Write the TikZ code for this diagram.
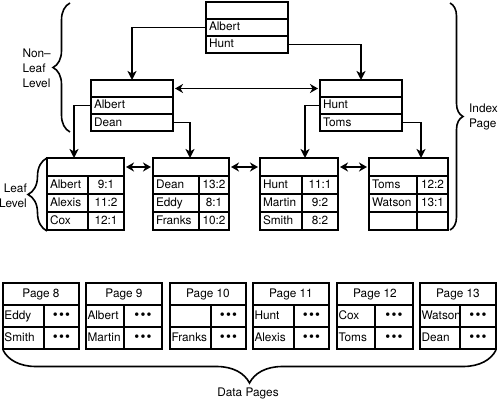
\documentclass[tikz,border=0pt]{standalone}
\usepackage{fontspec}
\setmainfont{TeX Gyre Heros}
\usepackage{tikz}
\usetikzlibrary{arrows.meta, positioning, calc, decorations.pathreplacing}

\newcommand{\threedots}{{\fontsize{14}{14}\selectfont •\kern1.2pt•\kern1.2pt•}}

\tikzset{
	cell/.style={draw, line width=1.2pt, anchor=north west, inner sep=0pt, outer sep=0pt,
		text height=9pt, text depth=2pt, align=center},
	key/.style={cell, align=left, inner xsep=3pt},
	frame/.style={line width=1.8pt},
	arr/.style={line width=1.7pt, -{Stealth[length=9pt, width=9pt, inset=2.5pt]}},
	dbl/.style={line width=1.7pt, {Stealth[length=8pt, width=9pt, inset=2.5pt]}-{Stealth[length=8pt, width=9pt, inset=2.5pt]},
		shorten <=2pt, shorten >=2pt},
	brc/.style={line width=1.6pt, decorate},
	lbl/.style={inner sep=0pt}
}

\begin{document}
\begin{tikzpicture}[x=1pt, y=-1pt, font=\fontsize{11.8}{15}\selectfont]
	\useasboundingbox (0,0) rectangle (500,401);

	% index page, non-leaf level
	\foreach \n/\x/\y/\a/\b in {root/206/2/Albert/Hunt, lnl/91/80/Albert/Dean, rnl/320/80/Hunt/Toms}{
		\node[cell, minimum width=82pt, minimum height=17pt] (\n-0) at (\x,\y) {};
		\node[key, text width=76pt, minimum height=17pt] (\n-1) at (\n-0.south west) {\a};
		\node[key, text width=76pt, minimum height=17pt] (\n-2) at (\n-1.south west) {\b};
		\draw[frame] (\n-0.north west) rectangle (\n-2.south east);
	}

	% leaf level
	\foreach \n/\x/\w/\s/\ka/\va/\kb/\vb/\kc/\vc in {
			leafA/47/77/41/Albert/9:1/Alexis/11:2/Cox/12:1,
			leafB/153/76/46/Dean/13:2/Eddy/8:1/Franks/10:2,
			leafC/260/78/42/Hunt/11:1/Martin/9:2/Smith/8:2,
			leafD/369/79/48/Toms/12:2/Watson/13:1/{}/{}}{
		\pgfmathsetmacro\tw{\s-6}
		\pgfmathsetmacro\rw{\w-\s}
		\node[cell, minimum width=\w pt, minimum height=18pt] (\n-0) at (\x,158) {};
		\node[key, text width=\tw pt, minimum height=18pt] (\n-1k) at (\n-0.south west) {\ka};
		\node[cell, minimum width=\rw pt, minimum height=18pt] (\n-1v) at (\n-1k.north east) {\va};
		\node[key, text width=\tw pt, minimum height=18pt] (\n-2k) at (\n-1k.south west) {\kb};
		\node[cell, minimum width=\rw pt, minimum height=18pt] (\n-2v) at (\n-2k.north east) {\vb};
		\node[key, text width=\tw pt, minimum height=18pt] (\n-3k) at (\n-2k.south west) {\kc};
		\node[cell, minimum width=\rw pt, minimum height=18pt] (\n-3v) at (\n-3k.north east) {\vc};
		\draw[frame] (\n-0.north west) rectangle (\n-3v.south east);
	}

	% data pages
	\foreach \n/\x/\s/\t/\ka/\kb in {p8/3/41/8/Eddy/Smith, p9/86/38/9/Albert/Martin,
			p10/170/41/10/{}/Franks, p11/253/41/11/Hunt/Alexis, p12/337/38/12/Cox/Toms,
			p13/420/40/13/Watson/Dean}{
		\pgfmathsetmacro\tw{\s-3}
		\pgfmathsetmacro\rw{76-\s}
		\node[cell, minimum width=76pt, minimum height=22pt] (\n-0) at (\x,283) {Page \t};
		\node[key, inner xsep=1.5pt, text width=\tw pt, minimum height=22pt] (\n-1k) at (\n-0.south west) {\ka};
		\node[cell, minimum width=\rw pt, minimum height=22pt] (\n-1v) at (\n-1k.north east) {\threedots};
		\node[key, inner xsep=1.5pt, text width=\tw pt, minimum height=22pt] (\n-2k) at (\n-1k.south west) {\kb};
		\node[cell, minimum width=\rw pt, minimum height=22pt] (\n-2v) at (\n-2k.north east) {\threedots};
		\draw[frame] (\n-0.north west) rectangle (\n-2v.south east);
	}

	% pointers
	\draw[arr] (root-1.west) -| (lnl-0.north);
	\draw[arr] (root-2.east) -| (rnl-0.north);
	\draw[dbl] (lnl-0.east) -- (rnl-0.west);
	\coordinate (ka) at ([xshift=-17pt]lnl-1.west);
	\coordinate (kb) at ([xshift=17pt]lnl-2.east);
	\coordinate (kc) at ([xshift=-15pt]rnl-1.west);
	\coordinate (kd) at ([xshift=19pt]rnl-2.east);
	\draw[arr] (lnl-1.west) -- (ka) -- (ka |- leafA-0.north);
	\draw[arr] (lnl-2.east) -- (kb) -- (kb |- leafB-0.north);
	\draw[arr] (rnl-1.west) -- (kc) -- (kc |- leafC-0.north);
	\draw[arr] (rnl-2.east) -- (kd) -- (kd |- leafD-0.north);
	\draw[dbl] (leafA-0.east) -- (leafB-0.west);
	\draw[dbl] (leafB-0.east) -- (leafC-0.west);
	\draw[dbl] (leafC-0.east) -- (leafD-0.west);

	% braces
	\draw[brc, decoration={brace, amplitude=17pt}] (70,132) -- (70,3);
	\draw[brc, decoration={brace, amplitude=19pt}] (47,231) -- (47,158);
	\draw[brc, decoration={brace, amplitude=13pt}] (450,3) -- (450,230);
	\draw[brc, decoration={brace, amplitude=33pt}] (496,350) -- (3,350);
	\node[lbl, anchor=east, align=left] (nonleaf) at (51,68) {Non–\\Leaf\\Level};
	\node[lbl, anchor=east, align=right] (leaflvl) at (27,195.5) {Leaf\\Level};
	\node[lbl, anchor=west, align=left] (index) at (469,116.5) {Index\\Page};
	\node[lbl] (data) at (248,393) {Data Pages};
\end{tikzpicture}
\end{document}
